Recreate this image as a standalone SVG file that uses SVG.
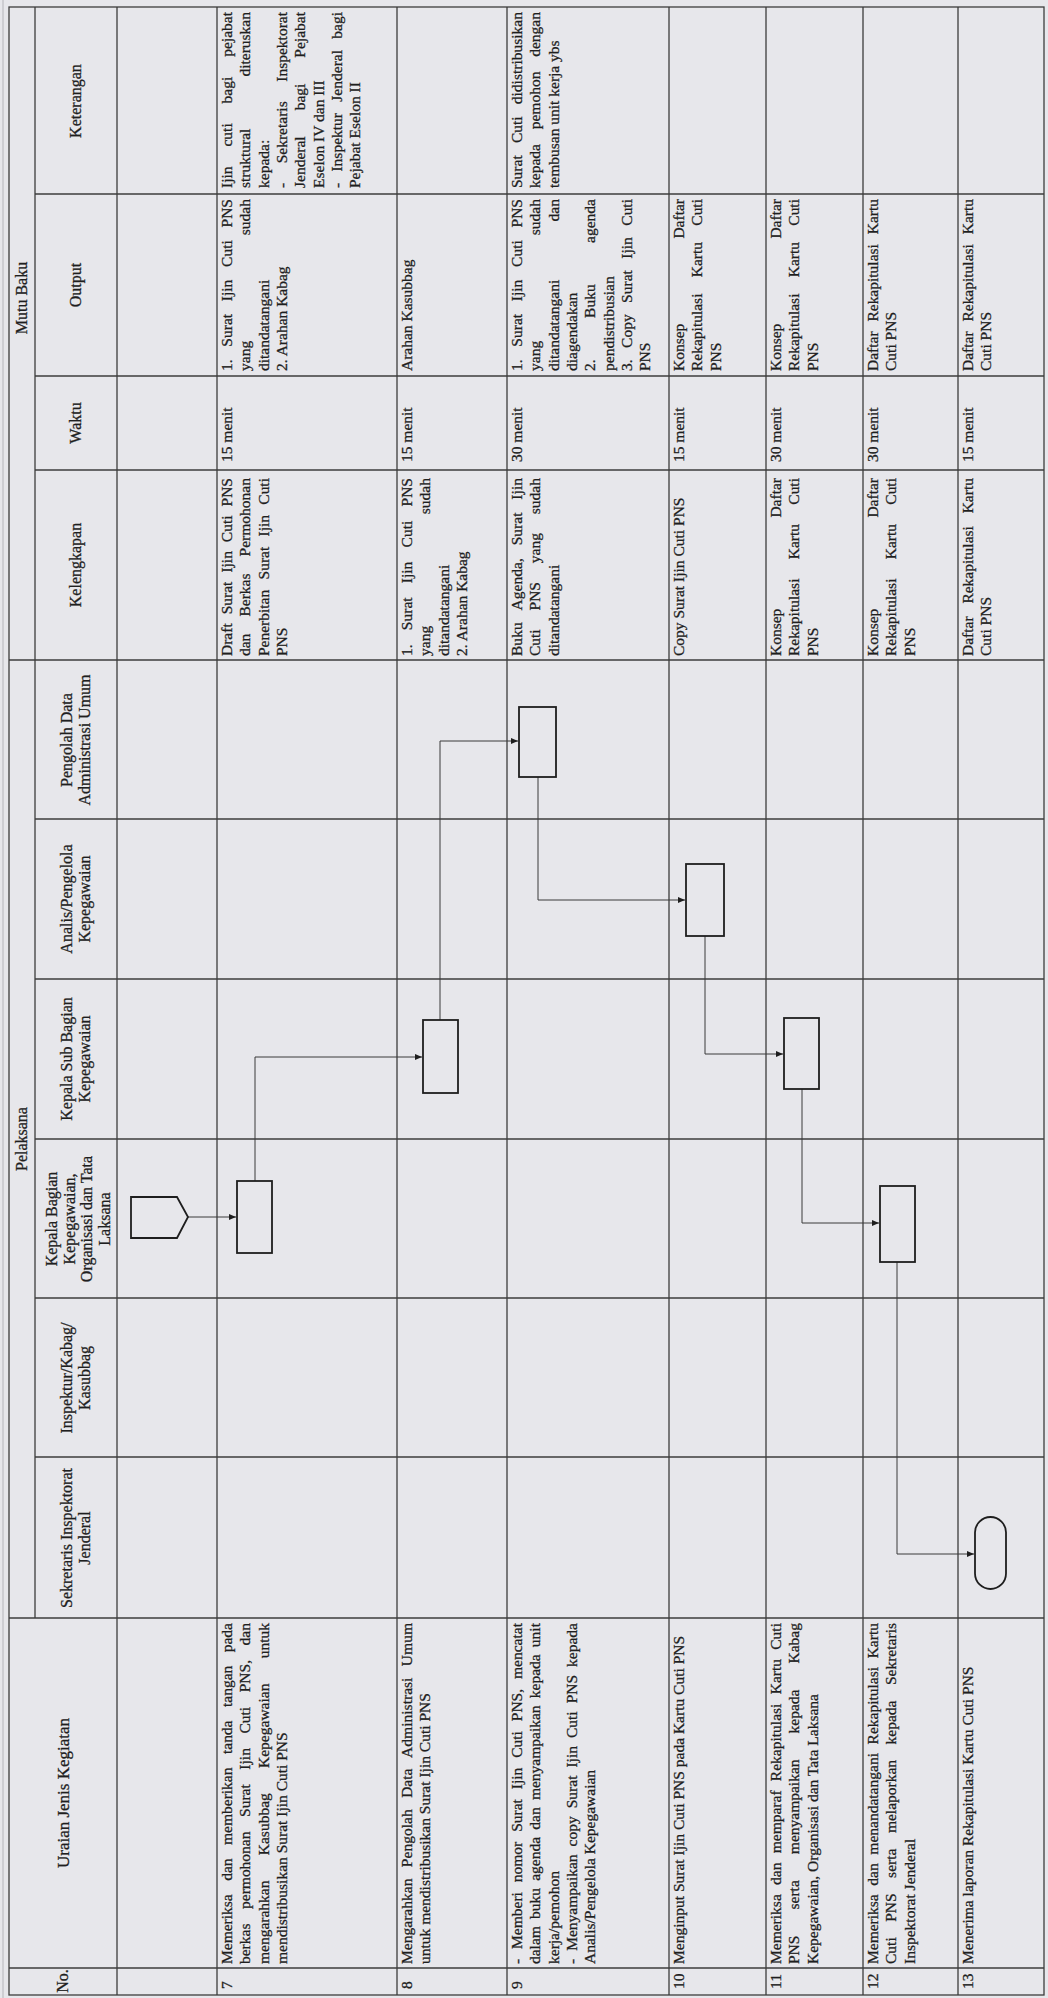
<svg xmlns="http://www.w3.org/2000/svg" width="1048" height="1998" viewBox="0 0 1048 1998">
<style>
.t{font-family:"Liberation Serif","Times New Roman",serif;font-size:15.5px;fill:#1f1f1f;stroke:#1f1f1f;stroke-width:0.3px}
.h{text-anchor:middle;font-size:16px}
.g{stroke:#3c3c3c;stroke-width:1.3;fill:none}
.shape{fill:none;stroke:#1e1e1e;stroke-width:1.8}
.conn{fill:none;stroke:#3a3a3a;stroke-width:1}
</style>
<defs>
<marker id="arr" markerWidth="8" markerHeight="8" refX="7" refY="4" orient="auto" markerUnits="userSpaceOnUse">
<path d="M0,1 L7,4 L0,7 Z" fill="#1e1e1e"/>
</marker>
</defs>
<rect width="1048" height="1998" fill="#e7e7eb"/>
<g id="grid" class="g">
<rect x="9" y="7" width="1035" height="1988"/>
<line x1="3" y1="0" x2="3" y2="1998" stroke="#b5b5ba" stroke-width="1"/>
<line x1="35" y1="7" x2="35" y2="1618"/>
<line x1="117" y1="7" x2="117" y2="1995"/>
<line x1="217" y1="7" x2="217" y2="1995"/>
<line x1="397" y1="7" x2="397" y2="1995"/>
<line x1="507" y1="7" x2="507" y2="1995"/>
<line x1="669" y1="7" x2="669" y2="1995"/>
<line x1="766" y1="7" x2="766" y2="1995"/>
<line x1="863" y1="7" x2="863" y2="1995"/>
<line x1="958" y1="7" x2="958" y2="1995"/>
<line x1="35" y1="194" x2="1044" y2="194"/>
<line x1="35" y1="376" x2="1044" y2="376"/>
<line x1="35" y1="470" x2="1044" y2="470"/>
<line x1="9" y1="660" x2="1044" y2="660"/>
<line x1="35" y1="819" x2="1044" y2="819"/>
<line x1="35" y1="979" x2="1044" y2="979"/>
<line x1="35" y1="1139" x2="1044" y2="1139"/>
<line x1="35" y1="1298" x2="1044" y2="1298"/>
<line x1="35" y1="1457" x2="1044" y2="1457"/>
<line x1="9" y1="1618" x2="1044" y2="1618"/>
<line x1="9" y1="1968" x2="1044" y2="1968"/>
</g>
<g id="texts" class="t" transform="matrix(0,-1,1,0,0,1998)">
<g id="headers" class="h">
<text x="859" y="27">Pelaksana</text>
<text x="1700" y="27">Mutu Baku</text>
<text x="17" y="68">No.</text>
<text x="205" y="69" style="font-size:17px">Uraian Jenis Kegiatan</text>
<text x="460" y="72">Sekretaris Inspektorat</text><text x="460" y="90">Jenderal</text>
<text x="620" y="72">Inspektur/Kabag/</text><text x="620" y="90">Kasubbag</text>
<text x="779" y="57">Kepala Bagian</text><text x="779" y="74.5">Kepegawaian,</text><text x="779" y="92">Organisasi dan Tata</text><text x="779" y="109.5">Laksana</text>
<text x="939" y="72">Kepala Sub Bagian</text><text x="939" y="90">Kepegawaian</text>
<text x="1099" y="72">Analis/Pengelola</text><text x="1099" y="90">Kepegawaian</text>
<text x="1258" y="72">Pengolah Data</text><text x="1258" y="90">Administrasi Umum</text>
<text x="1433" y="81">Kelengkapan</text>
<text x="1575" y="81">Waktu</text>
<text x="1713" y="81">Output</text>
<text x="1897" y="81">Keterangan</text>
</g>
<g id="row7">
<text x="9" y="232">7</text>
<text x="34" y="232" style="word-spacing:9.6px" textLength="341" lengthAdjust="spacing">Memeriksa dan memberikan tanda tangan pada</text>
<text x="34" y="250.3" style="word-spacing:10.7px" textLength="341" lengthAdjust="spacing">berkas permohonan Surat Ijin Cuti PNS, dan</text>
<text x="34" y="268.6" style="word-spacing:21.4px" textLength="341" lengthAdjust="spacing">mengarahkan Kasubbag Kepegawaian untuk</text>
<text x="34" y="286.9">mendistribusikan Surat Ijin Cuti PNS</text>
<text x="1342" y="232" style="word-spacing:5.1px" textLength="178" lengthAdjust="spacing">Draft Surat Ijin Cuti PNS</text>
<text x="1342" y="250.3" style="word-spacing:13.2px" textLength="178" lengthAdjust="spacing">dan Berkas Permohonan</text>
<text x="1342" y="268.6" style="word-spacing:6.4px" textLength="178" lengthAdjust="spacing">Penerbitan Surat Ijin Cuti</text>
<text x="1342" y="286.9">PNS</text>
<text x="1536" y="232">15 menit</text>
<text x="1627" y="232" style="word-spacing:8.9px" textLength="172" lengthAdjust="spacing">1. Surat Ijin Cuti PNS</text>
<text x="1627" y="250.3">yang</text><text x="1799" y="250.3" text-anchor="end">sudah</text>
<text x="1627" y="268.6">ditandatangani</text>
<text x="1627" y="286.9">2. Arahan Kabag</text>
<text x="1810" y="232" style="word-spacing:16px" textLength="176" lengthAdjust="spacing">Ijin cuti bagi pejabat</text>
<text x="1810" y="250.3">struktural</text><text x="1986" y="250.3" text-anchor="end">diteruskan</text>
<text x="1810" y="268.6">kepada:</text>
<text x="1810" y="286.9" style="word-spacing:15.7px" textLength="176" lengthAdjust="spacing">- Sekretaris Inspektorat</text>
<text x="1810" y="305.2" style="word-spacing:22.1px" textLength="176" lengthAdjust="spacing">Jenderal bagi Pejabat</text>
<text x="1810" y="323.5">Eselon IV dan III</text>
<text x="1810" y="341.8" style="word-spacing:7.4px" textLength="176" lengthAdjust="spacing">- Inspektur Jenderal bagi</text>
<text x="1810" y="360.1">Pejabat Eselon II</text>
</g>
<g id="row8">
<text x="9" y="412">8</text>
<text x="34" y="412" style="word-spacing:7.5px" textLength="341" lengthAdjust="spacing">Mengarahkan Pengolah Data Administrasi Umum</text>
<text x="34" y="430.3">untuk mendistribusikan Surat Ijin Cuti PNS</text>
<text x="1342" y="412" style="word-spacing:10.4px" textLength="178" lengthAdjust="spacing">1. Surat Ijin Cuti PNS</text>
<text x="1342" y="430.3">yang</text><text x="1520" y="430.3" text-anchor="end">sudah</text>
<text x="1342" y="448.6">ditandatangani</text>
<text x="1342" y="466.9">2. Arahan Kabag</text>
<text x="1536" y="412">15 menit</text>
<text x="1627" y="412">Arahan Kasubbag</text>
</g>
<g id="row9">
<text x="9" y="522">9</text>
<text x="34" y="522" style="word-spacing:6px" textLength="341" lengthAdjust="spacing">- Memberi nomor Surat Ijin Cuti PNS, mencatat</text>
<text x="34" y="540.3" style="word-spacing:3.3px" textLength="341" lengthAdjust="spacing">dalam buku agenda dan menyampaikan kepada unit</text>
<text x="34" y="558.6">kerja/pemohon</text>
<text x="34" y="576.9" style="word-spacing:4.1px" textLength="341" lengthAdjust="spacing">- Menyampaikan copy Surat Ijin Cuti PNS kepada</text>
<text x="34" y="595.2">Analis/Pengelola Kepegawaian</text>
<text x="1342" y="522" style="word-spacing:8.8px" textLength="178" lengthAdjust="spacing">Buku Agenda, Surat Ijin</text>
<text x="1342" y="540.3" style="word-spacing:15px" textLength="178" lengthAdjust="spacing">Cuti PNS yang sudah</text>
<text x="1342" y="558.6">ditandatangani</text>
<text x="1536" y="522">30 menit</text>
<text x="1627" y="522" style="word-spacing:8.9px" textLength="172" lengthAdjust="spacing">1. Surat Ijin Cuti PNS</text>
<text x="1627" y="540.3">yang</text><text x="1799" y="540.3" text-anchor="end">sudah</text>
<text x="1627" y="558.6">ditandatangani</text><text x="1799" y="558.6" text-anchor="end">dan</text>
<text x="1627" y="576.9">diagendakan</text>
<text x="1627" y="595.2" style="word-spacing:37.6px" textLength="172" lengthAdjust="spacing">2. Buku agenda</text>
<text x="1627" y="613.5">pendistribusian</text>
<text x="1627" y="631.8" style="word-spacing:7.6px" textLength="172" lengthAdjust="spacing">3. Copy Surat Ijin Cuti</text>
<text x="1627" y="650.1">PNS</text>
<text x="1810" y="522" style="word-spacing:8.3px" textLength="176" lengthAdjust="spacing">Surat Cuti didistribusikan</text>
<text x="1810" y="540.3" style="word-spacing:10.9px" textLength="176" lengthAdjust="spacing">kepada pemohon dengan</text>
<text x="1810" y="558.6">tembusan unit kerja ybs</text>
</g>
<g id="row10">
<text x="9" y="684">10</text>
<text x="34" y="684">Menginput Surat Ijin Cuti PNS pada Kartu Cuti PNS</text>
<text x="1342" y="684">Copy Surat Ijin Cuti PNS</text>
<text x="1536" y="684">15 menit</text>
<text x="1627" y="684">Konsep</text><text x="1799" y="684" text-anchor="end">Daftar</text>
<text x="1627" y="702.3" style="word-spacing:12.4px" textLength="172" lengthAdjust="spacing">Rekapitulasi Kartu Cuti</text>
<text x="1627" y="720.6">PNS</text>
</g>
<g id="row11">
<text x="9" y="781">11</text>
<text x="34" y="781" style="word-spacing:5.4px" textLength="341" lengthAdjust="spacing">Memeriksa dan memparaf Rekapitulasi Kartu Cuti</text>
<text x="34" y="799.3" style="word-spacing:22.2px" textLength="341" lengthAdjust="spacing">PNS serta menyampaikan kepada Kabag</text>
<text x="34" y="817.6">Kepegawaian, Organisasi dan Tata Laksana</text>
<text x="1342" y="781">Konsep</text><text x="1520" y="781" text-anchor="end">Daftar</text>
<text x="1342" y="799.3" style="word-spacing:15.4px" textLength="178" lengthAdjust="spacing">Rekapitulasi Kartu Cuti</text>
<text x="1342" y="817.6">PNS</text>
<text x="1536" y="781">30 menit</text>
<text x="1627" y="781">Konsep</text><text x="1799" y="781" text-anchor="end">Daftar</text>
<text x="1627" y="799.3" style="word-spacing:12.4px" textLength="172" lengthAdjust="spacing">Rekapitulasi Kartu Cuti</text>
<text x="1627" y="817.6">PNS</text>
</g>
<g id="row12">
<text x="9" y="878">12</text>
<text x="34" y="878" style="word-spacing:4.75px" textLength="341" lengthAdjust="spacing">Memeriksa dan menandatangani Rekapitulasi Kartu</text>
<text x="34" y="896.3" style="word-spacing:11.6px" textLength="341" lengthAdjust="spacing">Cuti PNS serta melaporkan kepada Sekretaris</text>
<text x="34" y="914.6">Inspektorat Jenderal</text>
<text x="1342" y="878">Konsep</text><text x="1520" y="878" text-anchor="end">Daftar</text>
<text x="1342" y="896.3" style="word-spacing:15.4px" textLength="178" lengthAdjust="spacing">Rekapitulasi Kartu Cuti</text>
<text x="1342" y="914.6">PNS</text>
<text x="1536" y="878">30 menit</text>
<text x="1627" y="878" style="word-spacing:6px" textLength="172" lengthAdjust="spacing">Daftar Rekapitulasi Kartu</text>
<text x="1627" y="896.3">Cuti PNS</text>
</g>
<g id="row13">
<text x="9" y="973">13</text>
<text x="34" y="973">Menerima laporan Rekapitulasi Kartu Cuti PNS</text>
<text x="1342" y="973" style="word-spacing:8.9px" textLength="178" lengthAdjust="spacing">Daftar Rekapitulasi Kartu</text>
<text x="1342" y="991.3">Cuti PNS</text>
<text x="1536" y="973">15 menit</text>
<text x="1627" y="973" style="word-spacing:6px" textLength="172" lengthAdjust="spacing">Daftar Rekapitulasi Kartu</text>
<text x="1627" y="991.3">Cuti PNS</text>
</g>
</g>
<g id="connectors" class="conn">
<path d="M188,1217 H236" marker-end="url(#arr)"/>
<path d="M255,1181 V1057 H422" marker-end="url(#arr)"/>
<path d="M440,1020 V741 H518" marker-end="url(#arr)"/>
<path d="M538,777 V900 H685" marker-end="url(#arr)"/>
<path d="M705,936 V1054 H783" marker-end="url(#arr)"/>
<path d="M802,1089 V1223 H879" marker-end="url(#arr)"/>
<path d="M897,1262 V1554 H974" marker-end="url(#arr)"/>
</g>
<g id="node-start" class="shape"><polygon points="131,1197 177,1197 188,1217 177,1238 131,1238"/></g>
<g id="node-7" class="shape"><rect x="237" y="1181" width="35" height="72"/></g>
<g id="node-8" class="shape"><rect x="423" y="1020" width="35" height="73"/></g>
<g id="node-9" class="shape"><rect x="519" y="707" width="37" height="70"/></g>
<g id="node-10" class="shape"><rect x="686" y="864" width="38" height="72"/></g>
<g id="node-11" class="shape"><rect x="784" y="1018" width="35" height="71"/></g>
<g id="node-12" class="shape"><rect x="880" y="1186" width="35" height="76"/></g>
<g id="node-13" class="shape"><rect x="975" y="1517" width="31" height="72" rx="15.5" ry="15.5"/></g>
</svg>
